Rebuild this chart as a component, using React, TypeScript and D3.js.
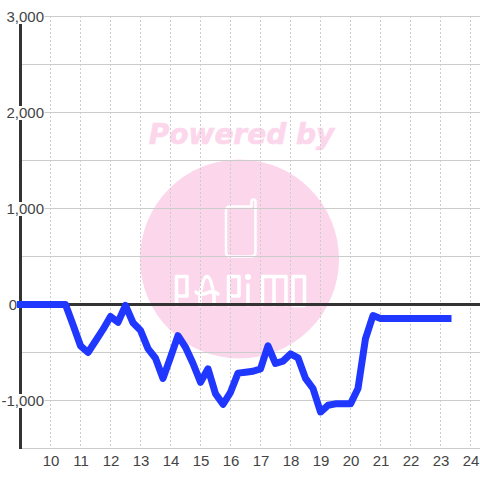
import React from "react";
import * as d3 from "d3";

const startHour = 9;
const stepHour = 0.25;
const profit = [
  0, 0, 0, 0, 0, 0, 0, -210, -430, -500, -380, -260, -125, -185, -10, -190, -270, -460, -560, -770, -550, -325, -445, -615, -810, -670, -930, -1040, -915, -715, -705, -695, -670, -430, -615, -590, -515, -555, -770, -875, -1120, -1050, -1035, -1035, -1035, -875, -355, -115, -145,
  -145, -145, -145, -145, -145, -145, -145, -145, -145,
];
const yLabelled = [3000, 2000, 1000, -1000];
const yGrid = [3000, 2500, 2000, 1500, 1000, 500, -500, -1000, -1500];
const xTicks = [10, 11, 12, 13, 14, 15, 16, 17, 18, 19, 20, 21, 22, 23, 24];

const x = d3.scaleLinear().domain([9, 24]).range([20.5, 470.5]);
const y = d3.scaleLinear().domain([3000, -1500]).range([16.5, 448.5]);
const font = "'Liberation Sans', Arial, sans-serif";
const pink = "#fcd7ec";
const fmt = d3.formatLocale({ decimal: ".", thousands: ",", grouping: [3], currency: ["", ""], minus: "-" }).format(",");

export default function App() {
  const line = d3
    .line<number>()
    .x((_, i) => x(startHour + i * stepHour))
    .y((d) => y(d));
  return (
    <svg width={480} height={480} style={{ position: "absolute", left: 0, top: 0, background: "#fff" }}>
      <g>
        <circle cx={239.5} cy={259} r={99.5} fill={pink} />
        <text x={241.5} y={144} textAnchor="middle" fontFamily="'DejaVu Sans'" fontWeight="bold" fontStyle="italic" fontSize={28} fill={pink} stroke={pink} strokeWidth={0.7}>Powered by</text>
        <g fill="none" stroke="#fff" strokeWidth={3.5} strokeLinejoin="round" strokeLinecap="round">
          <path strokeWidth={2.5} d="M230 206.5 H251.5 V202 Q251.5 199.5 253.5 199.5 Q255.5 199.5 255.5 202 V252 Q255.5 256.5 251 256.5 H230 Q226 256.5 226 252 V211 Q226 206.5 230 206.5 Z" />
          <path d="M176.5 305 V276.5 H187 V296 H176.5" />
          <path d="M200 296 Q203 276.5 207 276.5 Q211 276.5 214 296 M196 292 Q199 296 207 293 Q214 290 218 294 M200 296 V305 M214 296 V305" />
          <path d="M228.5 305 V276.5 H239 V296 H228.5" />
          <path d="M248 285 V305" />
          <path d="M262.5 305 V276.5 H274 V305 M274 276.5 H286 V305" />
          <path d="M293 276.5 H304.5 V305.5 H293 Z" />
        </g>
        <circle cx={248} cy={277} r={3} fill="#fff" />
      </g>
      <g>
        {yGrid.map((v) => (
          <line key={v} x1={20} x2={480} y1={y(v)} y2={y(v)} stroke="#ccc" strokeWidth={1} />
        ))}
        {xTicks.map((v) => (
          <line key={v} x1={x(v)} x2={x(v)} y1={16} y2={448} stroke="#ccc" strokeWidth={1} strokeDasharray="2 2" />
        ))}
      </g>
      <line x1={20.5} x2={20.5} y1={16} y2={449} stroke="#333" strokeWidth={3} />
      <line x1={20} x2={480} y1={y(0)} y2={y(0)} stroke="#333" strokeWidth={3} />
      {yLabelled.map((v) => {
        const label = fmt(v);
        return (
          <g key={v}>
            <rect x={label.length > 5 ? 2 : 5} y={y(v) - 6.5} width={label.length > 5 ? 42.5 : 39.5} height={14} fill="#fff" />
            <text x={44} y={y(v) + 5} textAnchor="end" fontFamily={font} fontSize={15} fill="#444">{label}</text>
          </g>
        );
      })}
      <text x={17} y={y(0) + 5} textAnchor="end" fontFamily={font} fontSize={15} fill="#444">0</text>
      <path d={line(profit) ?? ""} fill="none" stroke="#1f37ff" strokeWidth={7} strokeLinejoin="round" strokeLinecap="square" />
      {xTicks.map((v) => (
        <text key={v} x={x(v) + 0.5} y={466} textAnchor="middle" fontFamily={font} fontSize={15} fill="#444">{v}</text>
      ))}
    </svg>
  );
}
